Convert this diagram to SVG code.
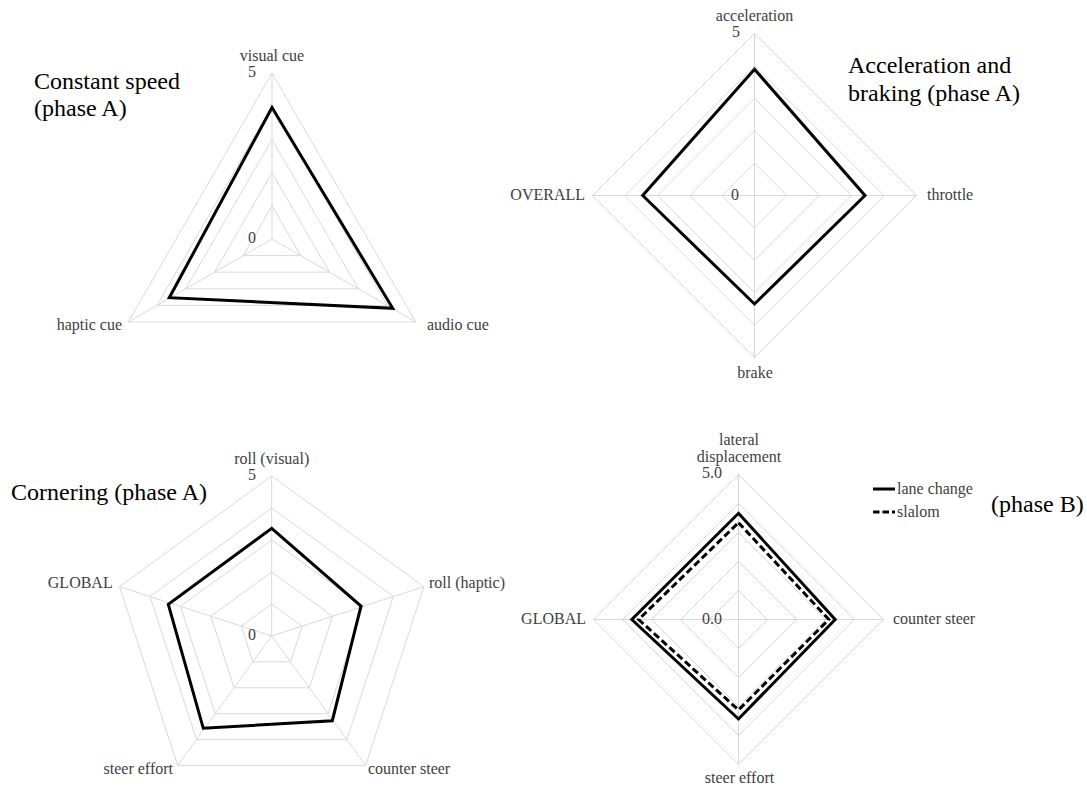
<svg xmlns="http://www.w3.org/2000/svg" width="1087" height="790" viewBox="0 0 1087 790">
<style>
.grid{fill:none;stroke:#d9d9d9;stroke-width:1}
.data{fill:none;stroke:#000;stroke-width:3;stroke-linejoin:miter}
.dash{fill:none;stroke:#000;stroke-width:3;stroke-dasharray:7 3.5}
.lbl{font-family:"Liberation Serif","Times New Roman",serif;font-size:16px;fill:#404040}
.title{font-family:"Liberation Serif","Times New Roman",serif;font-size:24px;fill:#000}
.mid{text-anchor:middle}
.end{text-anchor:end}
</style>
<rect width="1087" height="790" fill="#fff"/>

<g id="chart-constant-speed">
  <g class="grid">
    <polygon points="272,73 415.76,322 128.24,322"/>
    <polygon points="272,106.2 387,305.4 157,305.4"/>
    <polygon points="272,139.4 358.26,288.8 185.74,288.8"/>
    <polygon points="272,172.6 329.5,272.2 214.5,272.2"/>
    <polygon points="272,205.8 300.75,255.6 243.25,255.6"/>
    <line x1="272" y1="239" x2="272" y2="73"/>
    <line x1="272" y1="239" x2="415.76" y2="322"/>
    <line x1="272" y1="239" x2="128.24" y2="322"/>
  </g>
  <polygon class="data" points="272,107.5 392.7,308.3 169.3,297.7"/>
  <text class="lbl mid" x="272" y="61">visual cue</text>
  <text class="lbl mid" x="252" y="77">5</text>
  <text class="lbl mid" x="252" y="243">0</text>
  <text class="lbl end" x="122" y="330">haptic cue</text>
  <text class="lbl" x="427" y="330">audio cue</text>
  <text class="title" x="34" y="89">Constant speed</text>
  <text class="title" x="34" y="116">(phase A)</text>
</g>

<g id="chart-acceleration-braking">
  <g class="grid">
    <polygon points="754.5,33.5 916.5,195.5 754.5,357.5 592.5,195.5"/>
    <polygon points="754.5,65.9 884.1,195.5 754.5,325.1 624.9,195.5"/>
    <polygon points="754.5,98.3 851.7,195.5 754.5,292.7 657.3,195.5"/>
    <polygon points="754.5,130.7 819.3,195.5 754.5,260.3 689.7,195.5"/>
    <polygon points="754.5,163.1 786.9,195.5 754.5,227.9 722.1,195.5"/>
    <line x1="754.5" y1="33.5" x2="754.5" y2="357.5"/>
    <line x1="592.5" y1="195.5" x2="916.5" y2="195.5"/>
  </g>
  <polygon class="data" points="754.5,69.3 865,195.5 754.5,304 642.7,195.5"/>
  <text class="lbl mid" x="754.5" y="21">acceleration</text>
  <text class="lbl mid" x="736" y="37">5</text>
  <text class="lbl mid" x="735" y="200">0</text>
  <text class="lbl end" x="585" y="200">OVERALL</text>
  <text class="lbl" x="927" y="200">throttle</text>
  <text class="lbl mid" x="755" y="378">brake</text>
  <text class="title" x="848" y="73">Acceleration and</text>
  <text class="title" x="848" y="101">braking (phase A)</text>
</g>

<g id="chart-cornering">
  <g class="grid">
    <polygon points="271.7,476 423.9,586.6 365.7,765.4 177.7,765.4 119.5,586.6"/>
    <polygon points="271.7,508 393.4,596.4 346.9,739.6 196.5,739.6 150,596.4"/>
    <polygon points="271.7,540 363,606.3 328.1,713.7 215.3,713.7 180.4,606.3"/>
    <polygon points="271.7,572 332.6,616.2 309.3,687.8 234.1,687.8 210.8,616.2"/>
    <polygon points="271.7,604 302.1,626.1 290.5,661.9 252.9,661.9 241.3,626.1"/>
    <line x1="271.7" y1="636" x2="271.7" y2="476"/>
    <line x1="271.7" y1="636" x2="423.9" y2="586.6"/>
    <line x1="271.7" y1="636" x2="365.7" y2="765.4"/>
    <line x1="271.7" y1="636" x2="177.7" y2="765.4"/>
    <line x1="271.7" y1="636" x2="119.5" y2="586.6"/>
  </g>
  <polygon class="data" points="271.7,528.3 361,606 332.3,720.7 203.3,728.3 168.3,604.3"/>
  <text class="lbl mid" x="271.7" y="464">roll (visual)</text>
  <text class="lbl mid" x="252" y="480">5</text>
  <text class="lbl mid" x="252" y="640">0</text>
  <text class="lbl end" x="112.7" y="588">GLOBAL</text>
  <text class="lbl" x="429" y="588">roll (haptic)</text>
  <text class="lbl end" x="173" y="774">steer effort</text>
  <text class="lbl" x="368" y="774">counter steer</text>
  <text class="title" x="11" y="500">Cornering (phase A)</text>
</g>

<g id="chart-phase-b">
  <g class="grid">
    <polygon points="738.5,474.5 883.5,619.5 738.5,764.5 593.5,619.5"/>
    <polygon points="738.5,503.5 854.5,619.5 738.5,735.5 622.5,619.5"/>
    <polygon points="738.5,532.5 825.5,619.5 738.5,706.5 651.5,619.5"/>
    <polygon points="738.5,561.5 796.5,619.5 738.5,677.5 680.5,619.5"/>
    <polygon points="738.5,590.5 767.5,619.5 738.5,648.5 709.5,619.5"/>
    <line x1="738.5" y1="474.5" x2="738.5" y2="764.5"/>
    <line x1="593.5" y1="619.5" x2="883.5" y2="619.5"/>
  </g>
  <polygon class="data" points="738.5,513.3 835.2,619.5 738.5,719 631.8,619.5"/>
  <polygon class="dash" points="738.5,522.7 828.8,619.5 738.5,710 638.6,619.5"/>
  <text class="lbl mid" x="739" y="445">lateral</text>
  <text class="lbl mid" x="739" y="462">displacement</text>
  <text class="lbl mid" x="712" y="478">5.0</text>
  <text class="lbl mid" x="712" y="624">0.0</text>
  <text class="lbl end" x="586" y="624">GLOBAL</text>
  <text class="lbl" x="893" y="624">counter steer</text>
  <text class="lbl mid" x="739.5" y="783">steer effort</text>
</g>

<g id="legend">
  <line x1="873" y1="489" x2="895" y2="489" stroke="#000" stroke-width="3"/>
  <text class="lbl" x="897" y="494">lane change</text>
  <line x1="873" y1="512" x2="895" y2="512" stroke="#000" stroke-width="3" stroke-dasharray="6.5 3"/>
  <text class="lbl" x="897" y="516.5">slalom</text>
  <text class="title" x="991" y="512">(phase B)</text>
</g>
</svg>
